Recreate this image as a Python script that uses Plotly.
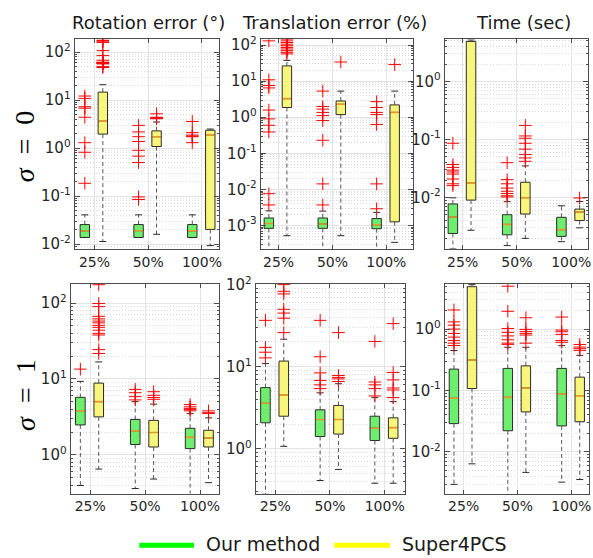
import math
import plotly.graph_objects as go
from plotly.subplots import make_subplots

W, H = 593, 558

categories = ["25%", "50%", "100%"]
series_names = ["Our method", "Super4PCS"]
column_titles = ["Rotation error (°)", "Translation error (%)", "Time (sec)"]
row_labels = ["<i>σ</i>&nbsp;&nbsp;=&nbsp;&nbsp;0", "<i>σ</i>&nbsp;&nbsp;=&nbsp;&nbsp;1"]

# ---------------- data (box statistics per category: 25%, 50%, 100%) ----------------
# Rotation error, sigma = 0
rot0_ours = dict(q1=[0.0137, 0.0137, 0.0137], med=[0.0187, 0.0190, 0.0188],
                 q3=[0.0255, 0.0255, 0.0255], lo=[0.0137, 0.0137, 0.0137], hi=[0.0407, 0.0407, 0.0407])
rot0_ours_out = [[12.2, 10.9, 7.3, 6.8, 4.4, 1.30, 0.82, 0.185],
                 [2.98, 2.18, 1.73, 1.37, 0.90, 0.68, 0.50, 0.096, 0.085],
                 [3.6, 2.1, 1.87, 1.78, 1.73, 1.3]]
rot0_sup = dict(q1=[1.96, 1.08, 0.0202], med=[3.66, 1.73, 1.87],
                q3=[14.7, 2.29, 2.36], lo=[0.0113, 0.016, 0.0093], hi=[21.0, 3.5, 2.5])
rot0_sup_out = [[190, 175, 165, 160, 108, 85, 68, 62, 61, 60, 59, 58, 57, 50, 48],
                [5.2, 4.4, 4.3, 4.2, 4.1],
                []]

# Translation error, sigma = 0
tra0_ours = dict(q1=[0.00083, 0.00083, 0.00081], med=[0.00113, 0.00110, 0.00105],
                 q3=[0.00161, 0.00161, 0.00155], lo=[0.0002, 0.0002, 0.0002], hi=[0.00254, 0.0025, 0.0023])
tra0_ours_out = [[131, 10.9, 7.6, 6.5, 1.58, 0.90, 0.60, 0.39, 0.0076, 0.0037],
                 [5.3, 1.98, 1.68, 1.36, 1.11, 0.81, 0.23, 0.0142, 0.0037],
                 [2.7, 1.86, 1.36, 1.18, 0.63, 0.0142, 0.0029]]
tra0_sup = dict(q1=[1.86, 1.18, 0.00126], med=[3.27, 2.29, 1.36],
                q3=[26.5, 2.82, 2.2], lo=[0.00052, 0.00052, 0.00034], hi=[37.7, 5.3, 5.3])
tra0_sup_out = [[161, 145, 131, 118, 106, 96, 86, 78, 70, 63, 57],
                [34],
                [28.8]]

# Time, sigma = 0
tim0_ours = dict(q1=[0.00239, 0.00227, 0.00213], med=[0.00461, 0.00343, 0.00279],
                 q3=[0.00773, 0.00505, 0.00455], lo=[0.0013, 0.00148, 0.00173], hi=[0.00986, 0.00846, 0.0072])
tim0_ours_out = [[0.086, 0.037, 0.033, 0.0296, 0.0275, 0.0253, 0.0208, 0.0172, 0.016],
                 [0.0398, 0.0203, 0.0172, 0.0145, 0.0128, 0.0117, 0.0107, 0.0102],
                 []]
tim0_sup = dict(q1=[0.0090, 0.00518, 0.0040], med=[0.0177, 0.0099, 0.0056],
                q3=[4.9, 0.0183, 0.0063], lo=[0.00272, 0.00197, 0.003], hi=[5.2, 0.035, 0.0085])
tim0_sup_out = [[],
                [0.175, 0.115, 0.105, 0.086, 0.068, 0.055, 0.048, 0.042],
                [0.0098]]

# Rotation error, sigma = 1
rot1_ours = dict(q1=[2.48, 1.37, 1.21], med=[3.82, 2.07, 1.70],
                 q3=[5.73, 2.93, 2.24], lo=[0.395, 0.36, 0.3], hi=[9.3, 5.03, 3.5])
rot1_ours_out = [[13.5],
                 [7.3, 6.6, 5.85, 5.3],
                 [4.6, 4.3, 4.1, 3.95, 3.8]]
rot1_sup = dict(q1=[3.17, 1.27, 1.27], med=[5.03, 1.97, 1.67],
                q3=[8.83, 2.85, 2.11], lo=[0.65, 0.48, 0.43], hi=[16.8, 4.66, 3.08])
rot1_sup_out = [[175, 99, 90, 67, 62, 58, 55, 51, 48, 44, 40, 38, 24.4, 21.7],
                [6.8, 6.1, 5.7, 5.4],
                [3.8, 3.6, 3.5]]

# Translation error, sigma = 1
tra1_ours = dict(q1=[2.07, 1.41, 1.26], med=[3.58, 2.27, 1.78],
                 q3=[5.56, 2.98, 2.49], lo=[0.28, 0.41, 0.38], hi=[10.9, 4.8, 4.2])
tra1_ours_out = [[36.7, 17.2, 15.0, 12.8],
                 [36.7, 13.2, 8.4, 6.8, 6.0, 5.4],
                 [20.3, 6.5, 6.0, 5.4, 4.4]]
tra1_sup = dict(q1=[2.49, 1.51, 1.34], med=[4.5, 2.27, 1.81],
                q3=[11.7, 3.37, 2.38], lo=[1.07, 0.56, 0.38], hi=[21.6, 6.2, 3.75])
tra1_sup_out = [[100, 83, 77, 50, 45, 39, 26],
                [26, 7.8, 7.4, 7.1, 6.6],
                [33.5, 8.5, 6.9, 5.5, 5.2, 4.2]]

# Time, sigma = 1
tim1_ours = dict(q1=[0.0289, 0.0221, 0.0265], med=[0.0746, 0.0774, 0.0874],
                 q3=[0.223, 0.229, 0.229], lo=[0.00296, 0.0019, 0.00322], hi=[0.448, 0.506, 0.537])
tim1_ours_out = [[2.05, 1.31, 1.16, 1.0, 0.85, 0.74, 0.65, 0.59, 0.54],
                 [4.99, 1.95, 1.02, 0.885, 0.774, 0.669, 0.59, 0.564],
                 [1.57, 0.964, 0.907, 0.82, 0.65, 0.61]]
tim1_sup = dict(q1=[0.1076, 0.0448, 0.031], med=[0.314, 0.110, 0.0823],
                q3=[4.9, 0.252, 0.165], lo=[0.0064, 0.00464, 0.00355], hi=[5.3, 0.506, 0.373])
tim1_sup_out = [[],
                [1.53, 0.99, 0.91, 0.85, 0.80, 0.59],
                [0.56, 0.51, 0.48, 0.45]]

# ---------------- styling / layout ----------------
GREEN_FILL = "#6eee6e"
YELLOW_FILL = "#f8f67a"
EDGE = "#2b2b2b"
WHISK = "#555555"
MEDIAN = "#e69a28"
AXIS = "#4d4d4d"
TICKTXT = "#262626"
GRID = "#e4e4e4"
MINORGRID = "#dadada"
FONT = "DejaVu Sans"
BOX_W = 0.175
OFFSETS = [-0.18, 0.155]
FILLS = [GREEN_FILL, YELLOW_FILL]

panels = [
    dict(r=1, c=1, data=[(rot0_ours, rot0_ours_out), (rot0_sup, rot0_sup_out)],
         rect=(75, 220, 30, 245), xr=(0.63, 3.315), yr=(-2.10, 2.27)),
    dict(r=1, c=2, data=[(tra0_ours, tra0_ours_out), (tra0_sup, tra0_sup_out)],
         rect=(262, 415, 30, 245), xr=(0.668, 3.493), yr=(-3.649, 2.162)),
    dict(r=1, c=3, data=[(tim0_ours, tim0_ours_out), (tim0_sup, tim0_sup_out)],
         rect=(447, 591, 30, 245), xr=(0.67, 3.31), yr=(-2.886, 0.728)),
    dict(r=2, c=1, data=[(rot1_ours, rot1_ours_out), (rot1_sup, rot1_sup_out)],
         rect=(71, 220, 281, 496), xr=(0.643, 3.344), yr=(-0.51, 2.253)),
    dict(r=2, c=2, data=[(tra1_ours, tra1_ours_out), (tra1_sup, tra1_sup_out)],
         rect=(257, 407, 281, 496), xr=(0.642, 3.37), yr=(-0.546, 2.008)),
    dict(r=2, c=3, data=[(tim1_ours, tim1_ours_out), (tim1_sup, tim1_sup_out)],
         rect=(447, 592, 281, 496), xr=(0.649, 3.327), yr=(-2.678, 0.735)),
]


def fx(x):
    return x / W


def fy(y):
    return 1 - y / H


fig = make_subplots(rows=2, cols=3)

for p in panels:
    r, c = p["r"], p["c"]
    for si, (st, outl) in enumerate(p["data"]):
        xs = [i + 1 + OFFSETS[si] for i in range(len(categories))]
        fig.add_trace(go.Box(
            x=xs, q1=st["q1"], median=st["med"], q3=st["q3"],
            lowerfence=st["q1"], upperfence=st["q3"],
            width=BOX_W, fillcolor=FILLS[si], line=dict(color=EDGE, width=1),
            whiskerwidth=0, boxpoints=False, hoverinfo="skip", showlegend=False,
            name=series_names[si]), row=r, col=c)
        # whiskers (dashed)
        wx, wy = [], []
        for i, x in enumerate(xs):
            wx += [x, x, None, x, x, None]
            wy += [st["q3"][i], st["hi"][i], None, st["q1"][i], st["lo"][i], None]
        fig.add_trace(go.Scatter(x=wx, y=wy, mode="lines", hoverinfo="skip", showlegend=False,
                                 line=dict(color=WHISK, width=1, dash="4px,3px")), row=r, col=c)
        # whisker caps
        cx, cy = [], []
        for i, x in enumerate(xs):
            cx += [x, x]
            cy += [st["hi"][i], st["lo"][i]]
        fig.add_trace(go.Scatter(x=cx, y=cy, mode="markers", hoverinfo="skip", showlegend=False,
                                 marker=dict(symbol="line-ew", size=5, color=EDGE,
                                             line=dict(color=EDGE, width=1))), row=r, col=c)
        # medians
        mx, my = [], []
        for i, x in enumerate(xs):
            mx += [x - BOX_W / 2 + 0.01, x + BOX_W / 2 - 0.01, None]
            my += [st["med"][i], st["med"][i], None]
        fig.add_trace(go.Scatter(x=mx, y=my, mode="lines", hoverinfo="skip", showlegend=False,
                                 line=dict(color=MEDIAN, width=1.6)), row=r, col=c)
        # outliers
        ox, oy = [], []
        for i, x in enumerate(xs):
            ox += [x] * len(outl[i])
            oy += outl[i]
        fig.add_trace(go.Scatter(x=ox, y=oy, mode="markers", hoverinfo="skip", showlegend=False,
                                 marker=dict(symbol="cross-thin", size=9, color="red",
                                             line=dict(color="#ff0000", width=1))), row=r, col=c)

    x0, x1, y0, y1 = p["rect"]
    ylo, yhi = p["yr"]
    majors = list(range(math.ceil(ylo), math.floor(yhi) + 1))
    minors = []
    for e in range(math.floor(ylo), math.ceil(yhi) + 1):
        for k in range(2, 10):
            v = k * 10.0 ** e
            if ylo <= math.log10(v) <= yhi:
                minors.append(v)
    fig.update_xaxes(row=r, col=c, domain=[fx(x0), fx(x1)], range=list(p["xr"]),
                     tickmode="array", tickvals=[1, 2, 3], ticktext=categories,
                     showgrid=True, gridcolor=GRID, gridwidth=1, zeroline=False,
                     showline=True, linecolor=AXIS, linewidth=1, mirror="ticks",
                     ticks="inside", ticklen=4, tickcolor=AXIS,
                     tickfont=dict(family=FONT, size=14, color=TICKTXT))
    fig.update_yaxes(row=r, col=c, type="log", domain=[fy(y1), fy(y0)], range=[ylo, yhi],
                     tickmode="array", tickvals=[10.0 ** e for e in majors],
                     ticktext=["10<sup>%d</sup>" % e for e in majors],
                     showgrid=True, gridcolor=GRID, gridwidth=1, zeroline=False,
                     showline=True, linecolor=AXIS, linewidth=1, mirror="ticks",
                     ticks="inside", ticklen=5, tickcolor=AXIS,
                     tickfont=dict(family=FONT, size=15, color=TICKTXT),
                     minor=dict(tickmode="array", tickvals=minors, ticks="inside", ticklen=2,
                                tickcolor=AXIS, showgrid=True, gridcolor=MINORGRID,
                                griddash="1px,2px", gridwidth=1))

annotations = []
title_centers = [149.7, 336.3, 526]
for t, xc in zip(column_titles, title_centers):
    annotations.append(dict(text=t, x=fx(xc), y=fy(13), xref="paper", yref="paper",
                            xanchor="center", yanchor="middle", showarrow=False,
                            font=dict(family=FONT, size=18, color="#1a1a1a")))
for lab, yc in zip(row_labels, [140, 395]):
    annotations.append(dict(text=lab, x=fx(25), y=fy(yc), xref="paper", yref="paper",
                            xanchor="center", yanchor="middle", showarrow=False, textangle=-90,
                            font=dict(family="Liberation Serif", size=28, color="#000000")))

# legend (drawn manually)
legend_items = [(series_names[0], "#00ff00", 140, 195, 205), (series_names[1], "#ffff00", 336, 392, 402)]
shapes = []
for name, col, lx0, lx1, tx in legend_items:
    shapes.append(dict(type="line", xref="paper", yref="paper", x0=fx(lx0), x1=fx(lx1),
                       y0=fy(549), y1=fy(549), line=dict(color=col, width=5)))
    annotations.append(dict(text=name, x=fx(tx), y=fy(548), xref="paper", yref="paper",
                            xanchor="left", yanchor="middle", showarrow=False,
                            font=dict(family=FONT, size=19, color="#1a1a1a")))

fig.update_layout(width=W, height=H, margin=dict(l=0, r=0, t=0, b=0),
                  paper_bgcolor="white", plot_bgcolor="white", showlegend=False,
                  annotations=annotations, shapes=shapes, boxmode="overlay")

fig.write_html("out.html", config={"displayModeBar": False},
               post_script="document.body.style.margin='0px';")
